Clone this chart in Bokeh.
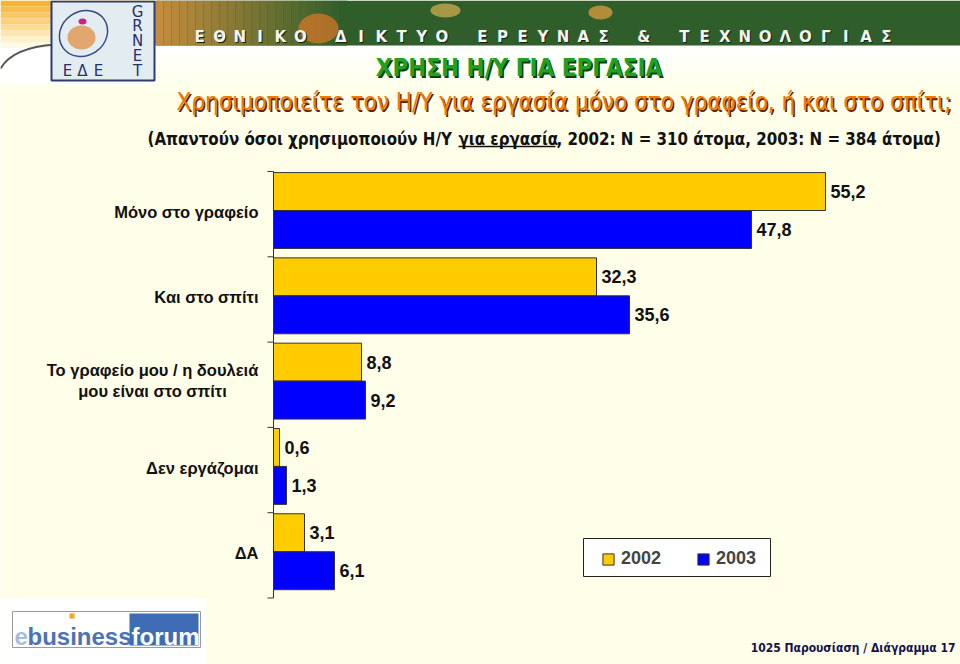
from bokeh.plotting import figure
from bokeh.models import Range1d, ColumnDataSource, Legend, LegendItem
from bokeh.transform import dodge
from bokeh.core.properties import value
from bokeh.embed import file_html
from bokeh.resources import INLINE
import numpy as np

# ---------------- data ----------------
categories = [
    "Μόνο στο γραφείο",
    "Και στο σπίτι",
    "Το γραφείο μου / η δουλειά\nμου είναι στο σπίτι",
    "Δεν εργάζομαι",
    "ΔΑ",
]
series_names = ["2002", "2003"]
values_2002 = [55.2, 32.3, 8.8, 0.6, 3.1]
values_2003 = [47.8, 35.6, 9.2, 1.3, 6.1]

title_text = "ΧΡΗΣΗ Η/Υ ΓΙΑ ΕΡΓΑΣΙΑ"
subtitle_text = "Χρησιμοποιείτε τον Η/Υ για εργασία μόνο στο γραφείο, ή και στο σπίτι;"
note_pre = "(Απαντούν όσοι χρησιμοποιούν Η/Υ"
note_mid = "για εργασία"
note_post = ", 2002: Ν = 310 άτομα, 2003: Ν = 384 άτομα)"
footer_text = "1025 Παρουσίαση / Διάγραμμα 17"
banner_words = ["ΕΘΝΙΚΟ", "ΔΙΚΤΥΟ", "ΕΡΕΥΝΑΣ", "&", "ΤΕΧΝΟΛΟΓΙΑΣ"]

# ---------------- layout / style ----------------
W, H = 960, 664
BG = "#FFFEE9"
FONT = "'Liberation Sans', Arial, sans-serif"
NARROW = "'Liberation Sans Narrow', 'Arial Narrow', 'DejaVu Sans Condensed', sans-serif"
YELLOW = "#FFCC00"
BLUE = "#0000FF"

X0 = 273          # pixel of value 0
PX_PER_UNIT = 10  # pixels per percentage point
TOP = 171         # top of first category band
BAND = 85.3       # category band height
c0 = TOP + BAND / 2

p = figure(width=W, height=H, x_range=Range1d(0, W), y_range=Range1d(H, 0),
           output_backend="svg", toolbar_location=None, min_border=0,
           x_axis_location=None, y_axis_location=None,
           background_fill_color=BG, border_fill_color=BG, outline_line_color=None)
p.grid.visible = False
p.extra_x_ranges = {"val": Range1d(-X0 / PX_PER_UNIT, (W - X0) / PX_PER_UNIT)}
p.extra_y_ranges = {"cat": Range1d((H - c0) / BAND, -c0 / BAND)}

# ---------------- decorations: header ----------------
for k in range(12):
    t = k / 11
    p.quad(left=0, right=W, top=45 + k * 4, bottom=49 + k * 4,
           fill_color=(255, 255, int(255 - 22 * t)), line_color=None)
# top-left orange glow
for k in range(8):
    t = k / 7
    col = (int(246 + 9 * t), int(180 + 70 * t), int(50 + 180 * t))
    p.quad(left=0, right=155, top=k * 6, bottom=k * 6 + 6, fill_color=col, line_color=None)
p.quad(left=0, right=155, top=48, bottom=84, fill_color="#FFFFFF", line_color=None)
p.quadratic(x0=0, y0=68, x1=55, y1=44, cx=12, cy=47, line_color="#555555", line_width=2)
# green banner with warm glow on the left
p.quad(left=155, right=W, top=0, bottom=45, fill_color="#2F5E2B", line_color=None)
for k in range(24):
    t = k / 23
    col = (int(196 - 149 * t), int(140 - 46 * t), int(62 - 19 * t))
    p.quad(left=155 + k * 8, right=163 + k * 8, top=0, bottom=45, fill_color=col, line_color=None)
p.ellipse(x=[318, 445, 600], y=[28, 10, 12], width=[40, 30, 24], height=[30, 14, 14],
          fill_color=["#E0782A", "#D8B050", "#E8A040"], fill_alpha=0.7, line_color=None)
# banner letters on a regular grid
PITCH = 20.2
bx, bt = [], []
slot = 0
for w in banner_words:
    for ch in w:
        bx.append(199 + slot * PITCH)
        bt.append(ch)
        slot += 1
    slot += 1
p.text(x=[v + 1 for v in bx], y=[37] * len(bx), text=bt, text_align="center", text_baseline="alphabetic",
       text_font=value("'DejaVu Sans', sans-serif"), text_font_style="bold", text_font_size="15px",
       text_color="#152012")
p.text(x=bx, y=[36] * len(bx), text=bt, text_align="center", text_baseline="alphabetic",
       text_font=value("'DejaVu Sans', sans-serif"), text_font_style="bold", text_font_size="15px",
       text_color="#F4F4F0")
# GRNET logo
p.quad(left=51, right=154, top=1, bottom=80, fill_color="#E3ECF1", line_color="#2D3C70", line_width=2)
p.ellipse(x=83, y=33, width=50, height=44, angle=0.6, fill_color=None, line_color="#3A4A80", line_width=1.5)
p.ellipse(x=81, y=37, width=28, height=24, fill_color="#E0A060", line_color=None, fill_alpha=0.9)
p.ellipse(x=82, y=21, width=8, height=6, fill_color="#D02080", line_color=None)
p.text(x=[137] * 5, y=[11, 25, 40, 55, 70], text=list("GRNET"), text_align="center",
       text_baseline="alphabetic", text_font=value("'DejaVu Sans', sans-serif"),
       text_font_size="15px", text_color="#243070")
p.text(x=[67, 82, 98], y=[70] * 3, text=list("ΕΔΕ"), text_align="center", text_baseline="alphabetic",
       text_font=value("'DejaVu Sans', sans-serif"), text_font_size="15px", text_color="#243070")

# titles
p.text(x=[520], y=[69], text=[title_text], text_align="center", text_baseline="alphabetic",
       text_font=value(NARROW), text_font_style="bold", text_font_size="24px", text_color="#0A400A")
p.text(x=[518.5], y=[67.5], text=[title_text], text_align="center", text_baseline="alphabetic",
       text_font=value(NARROW), text_font_style="bold", text_font_size="24px", text_color="#22A022")
p.text(x=[565], y=[103], text=[subtitle_text], text_align="center", text_baseline="alphabetic",
       text_font=value(NARROW), text_font_size="24px", text_color="#5A2800")
p.text(x=[563.5], y=[101.5], text=[subtitle_text], text_align="center", text_baseline="alphabetic",
       text_font=value(NARROW), text_font_size="24px", text_color="#F07A00")
NOTE_Y = 138
NOTE_KW = dict(text_baseline="alphabetic", text_font=value(NARROW), text_font_style="bold",
               text_font_size="16.8px", text_color="#111111", text_align="left")
p.text(x=[147], y=[NOTE_Y], text=[note_pre], **NOTE_KW)
p.text(x=[458], y=[NOTE_Y], text=[note_mid], **NOTE_KW)
p.segment(x0=458, y0=NOTE_Y + 8, x1=555, y1=NOTE_Y + 8, line_color="#111111", line_width=1.5)
p.text(x=[556], y=[NOTE_Y], text=[note_post], **NOTE_KW)

# ---------------- chart ----------------
n = len(categories)
fmt = lambda v: f"{v:.1f}".replace(".", ",")
src = ColumnDataSource(dict(
    idx=list(range(n)), cat=categories,
    v02=values_2002, v03=values_2003,
    l02=[fmt(v) for v in values_2002], l03=[fmt(v) for v in values_2003],
))
OFF02, OFF03, BH = -0.265, 0.18, 0.445
r02 = p.hbar(y=dodge("idx", OFF02), left=0, right="v02", height=BH, source=src,
             x_range_name="val", y_range_name="cat",
             fill_color=YELLOW, line_color="#333333", line_width=1)
r03 = p.hbar(y=dodge("idx", OFF03), left=0, right="v03", height=BH, source=src,
             x_range_name="val", y_range_name="cat",
             fill_color=BLUE, line_color="#333333", line_width=1)
for col, lab, off in (("v02", "l02", OFF02), ("v03", "l03", OFF03)):
    p.text(x=col, y=dodge("idx", off), text=lab, source=src,
           x_range_name="val", y_range_name="cat",
           x_offset=5, y_offset=0, text_align="left", text_baseline="middle",
           text_font=value(FONT), text_font_style="bold", text_font_size="18px",
           text_color="#111111")

# category axis line and ticks
bounds = [i - 0.5 for i in range(n + 1)]
p.segment(x0=0, y0=bounds[0], x1=0, y1=bounds[-1], x_range_name="val", y_range_name="cat",
          line_color="#333333", line_width=1)
p.ray(x=0, y=bounds, length=6, length_units="screen", angle=np.pi,
      x_range_name="val", y_range_name="cat", line_color="#333333", line_width=1)

# category labels
single = [i for i, c in enumerate(categories) if "\n" not in c]
multi = [i for i, c in enumerate(categories) if "\n" in c]
s1 = ColumnDataSource(dict(idx=single, cat=[categories[i] for i in single]))
s2 = ColumnDataSource(dict(idx=multi, cat=[categories[i] for i in multi]))
p.text(x=0, y="idx", text="cat", source=s1, x_range_name="val", y_range_name="cat",
       x_offset=-15, y_offset=-2, text_align="right", text_baseline="middle",
       text_font=value(FONT), text_font_style="bold", text_font_size="16.5px", text_color="#111111")
p.text(x=0, y="idx", text="cat", source=s2, x_range_name="val", y_range_name="cat",
       x_offset=-121, y_offset=-4, text_align="center", text_baseline="middle", text_line_height=1.15,
       text_font=value(FONT), text_font_style="bold", text_font_size="16.5px", text_color="#111111")

# legend
p.quad(left=583, right=770, top=538, bottom=576, fill_color="#FFFFFF", line_color="#222222", line_width=1)
legend = Legend(items=[LegendItem(label=series_names[0], renderers=[r02]),
                       LegendItem(label=series_names[1], renderers=[r03])],
                orientation="horizontal", location=(601, 95), padding=0, margin=0,
                spacing=35, label_standoff=6, glyph_width=14, glyph_height=14, label_height=14,
                label_text_font=FONT, label_text_font_style="bold", label_text_font_size="18px",
                label_text_baseline="middle",
                background_fill_alpha=0, border_line_alpha=0)
p.add_layout(legend)

# ---------------- footer ----------------
p.quad(left=0, right=205, top=598, bottom=H, fill_color="#FFFFFF", line_color=None)
p.quad(left=12, right=200, top=611, bottom=647, fill_color="#FFFFFF", line_color="#9A9A9A", line_width=1)
p.quad(left=129, right=198, top=613, bottom=645, fill_color="#3E6DB5", line_color=None)
LOGO_KW = dict(text_align="left", text_baseline="alphabetic", text_font=value(FONT),
               text_font_style="bold", text_font_size="24px")
p.text(x=[14], y=[636], text=["e"], text_color="#A9BCDD", **LOGO_KW)
p.text(x=[27], y=[636], text=["business"], text_color="#4C74B4", **LOGO_KW)
p.quad(left=69, right=74, top=613, bottom=618, fill_color="#F5A623", line_color=None)
p.text(x=[131], y=[636], text=["forum"], text_color="#FFFFFF", **LOGO_KW)
p.text(x=[955], y=[647], text=[footer_text], text_align="right", text_baseline="alphabetic",
       text_font=value(NARROW), text_font_style="bold", text_font_size="12px", text_color="#14144A")

open("out.html", "w").write(file_html(p, INLINE))
